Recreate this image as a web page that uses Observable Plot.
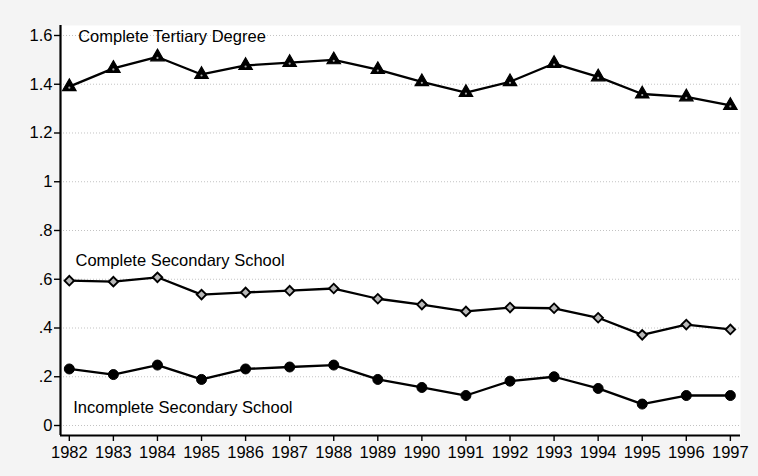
<!DOCTYPE html>
<html>
<head>
<meta charset="utf-8">
<script src="https://cdn.jsdelivr.net/npm/d3@7"></script>
<script src="https://cdn.jsdelivr.net/npm/@observablehq/plot@0.6"></script>
<style>
  html, body { margin: 0; padding: 0; background: #f4f4f4; }
  #chart svg { display: block; }
</style>
</head>
<body>
<div id="chart"></div>
<script>
const years = [1982,1983,1984,1985,1986,1987,1988,1989,1990,1991,1992,1993,1994,1995,1996,1997];
const tertiary   = [1.39,1.465,1.512,1.44,1.477,1.489,1.50,1.46,1.41,1.366,1.41,1.485,1.43,1.36,1.348,1.313];
const secondary  = [0.594,0.590,0.608,0.537,0.546,0.553,0.562,0.520,0.496,0.468,0.484,0.481,0.442,0.372,0.414,0.394];
const incomplete = [0.232,0.209,0.248,0.189,0.232,0.240,0.248,0.189,0.156,0.123,0.182,0.200,0.152,0.088,0.123,0.123];
const yTicks = [0,0.2,0.4,0.6,0.8,1,1.2,1.4,1.6];
const seriesNames = ["Complete Tertiary Degree","Complete Secondary School","Incomplete Secondary School"];
const labelAnchors = [
  {name: seriesNames[0], x: 1982.2,  y: 1.596},
  {name: seriesNames[1], x: 1982.14, y: 0.677},
  {name: seriesNames[2], x: 1982.09, y: 0.074}
];

const rows = (vals, name) => years.map((yr, i) => ({year: yr, value: vals[i], series: name}));
const tRows = rows(tertiary, seriesNames[0]);
const sRows = rows(secondary, seriesNames[1]);
const iRows = rows(incomplete, seriesNames[2]);

const xDomain = [1981.8, 1997.23];
const yDomain = [-0.041, 1.641];
const fmtY = d => d3.format("~g")(d).replace(/^0\./, ".");

const chart = Plot.plot({
  width: 758,
  height: 476,
  marginLeft: 60,
  marginRight: 18,
  marginTop: 25,
  marginBottom: 41,
  style: {background: "#f4f4f4", fontFamily: "Liberation Sans, Arial, sans-serif"},
  x: {domain: xDomain, axis: null},
  y: {domain: yDomain, axis: null},
  marks: [
    Plot.frame({fill: "white", stroke: "none"}),
    Plot.gridY(yTicks, {stroke: "#888", strokeOpacity: 0.5, strokeDasharray: "1,2", strokeWidth: 1}),
    Plot.axisY(yTicks, {tickFormat: fmtY, tickSize: 6, tickPadding: 2, fontSize: 16.5, fill: "black", stroke: "black", strokeWidth: 1.4}),
    Plot.axisX(years, {tickFormat: d => String(d), tickSize: 6, tickPadding: 5, fontSize: 16.5, fill: "black", stroke: "black", strokeWidth: 1.4}),
    Plot.ruleX([xDomain[0]], {stroke: "black", strokeWidth: 2.2}),
    Plot.ruleY([yDomain[0]], {stroke: "black", strokeWidth: 2.2}),
    Plot.line(tRows, {x: "year", y: "value", stroke: "black", strokeWidth: 2.3}),
    Plot.line(sRows, {x: "year", y: "value", stroke: "black", strokeWidth: 2.3}),
    Plot.line(iRows, {x: "year", y: "value", stroke: "black", strokeWidth: 2.3}),
    Plot.dot(tRows, {x: "year", y: "value", symbol: "triangle", r: 5, fill: "black", stroke: "black", strokeWidth: 1.2}),
    Plot.dot(tRows, {x: "year", y: "value", symbol: "circle", r: 1.1, fill: "#aaa", dy: 1}),
    Plot.dot(sRows, {x: "year", y: "value", symbol: "square", r: 3.8, rotate: 45, fill: "#b8b8b8", stroke: "black", strokeWidth: 1.9}),
    Plot.dot(iRows, {x: "year", y: "value", symbol: "circle", r: 5, fill: "black", stroke: "black", strokeWidth: 1}),
    Plot.text(labelAnchors, {x: "x", y: "y", text: "name", textAnchor: "start", fontSize: 16.5, fill: "black"})
  ]
});
document.getElementById("chart").appendChild(chart);
</script>
</body>
</html>
